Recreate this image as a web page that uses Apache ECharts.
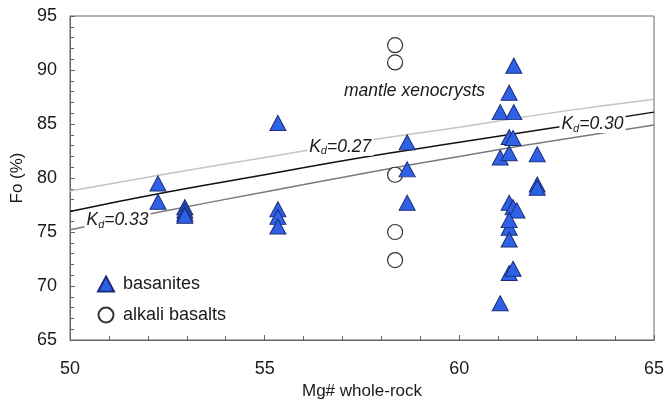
<!DOCTYPE html>
<html>
<head>
<meta charset="utf-8">
<script src="https://cdn.jsdelivr.net/npm/echarts@6/dist/echarts.min.js"></script>
<style>
html,body{margin:0;padding:0;background:#fff;}
#chart{width:664px;height:399px;}
</style>
</head>
<body>
<div id="chart"></div>
<script>
// Basanites (triangles)
var basaniteMg = [52.26, 52.26, 52.95, 52.95, 52.95, 52.95, 55.34, 55.34, 55.34, 55.34,
  58.66, 58.66, 58.66, 61.05, 61.05, 61.05, 61.28, 61.28, 61.28, 61.40, 61.40, 61.38,
  61.28, 61.28, 61.28, 61.28, 61.38, 61.38, 61.48, 61.28, 62.0, 62.0, 62.0];
var basaniteFo = [79.5, 77.8, 77.3, 77.0, 76.7, 76.5, 85.1, 77.1, 76.4, 75.5,
  83.3, 80.8, 77.7, 86.1, 81.9, 68.4, 87.9, 83.8, 82.3, 90.4, 86.1, 83.7,
  77.7, 75.4, 74.3, 71.2, 77.3, 71.6, 77.0, 76.1, 82.2, 79.4, 79.1];
// Alkali basalts (circles)
var alkaliMg = [58.35, 58.35, 58.35, 58.35, 58.35];
var alkaliFo = [92.3, 90.7, 80.3, 75.0, 72.4];
// Kd lines
var kdMg  = [50, 52.5, 55, 57.5, 60, 62.5, 65];
var kd027 = [78.8, 80.4, 81.9, 83.4, 84.7, 86.1, 87.3];
var kd030 = [76.9, 78.7, 80.3, 81.9, 83.3, 84.7, 86.1];
var kd033 = [75.2, 77.0, 78.7, 80.4, 82.0, 83.5, 84.9];
// annotation labels
var kdLabelText = ['0.33', '0.27', '0.30'];
var kdLabelMg = [51.22, 56.94, 63.42];
var kdLabelFo = [76.1, 82.9, 85.0];
var xenoLabel = 'mantle xenocrysts';
var xenoMg = 58.85, xenoFo = 88.0;
var seriesNames = ['basanites', 'alkali basalts'];
var xTicks = [50, 55, 60, 65];
var yTicks = [65, 70, 75, 80, 85, 90, 95];

function zip(a, b) { return a.map(function (v, i) { return [v, b[i]]; }); }

var FONT = '"Liberation Sans", Arial, Helvetica, sans-serif';
var FS = 18;
var TXT = '#1a1a1a';
var chart = echarts.init(document.getElementById('chart'));

var lineStyleBase = { type: 'line', showSymbol: false, symbol: 'none', silent: true, z: 2, animation: false };

var option = {
  animation: false,
  textStyle: { fontFamily: FONT },
  grid: { left: 70, right: 10, top: 16, bottom: 59, containLabel: false, outerBoundsMode: 'none',
          show: true, borderColor: '#666', borderWidth: 1, backgroundColor: 'transparent' },
  legend: {
    data: seriesNames,
    orient: 'vertical',
    left: 97, top: 275, padding: 0,
    itemWidth: 16, itemHeight: 15, itemGap: 13,
    textStyle: { fontSize: FS, color: TXT, fontFamily: FONT, padding: [0, 0, 0, 4] }
  },
  xAxis: {
    type: 'value', min: xTicks[0], max: xTicks[xTicks.length - 1], interval: 5,
    name: 'Mg# whole-rock', nameLocation: 'middle', nameGap: 43,
    nameTextStyle: { fontSize: FS - 1, color: TXT, fontFamily: FONT },
    axisLine: { lineStyle: { color: '#666' } },
    axisTick: { inside: true, length: 5, lineStyle: { color: '#666' } },
    minorTick: { show: true, splitNumber: 5, length: 4, lineStyle: { color: '#666' } },
    splitLine: { show: false },
    axisLabel: { fontSize: FS, color: TXT, margin: 20, fontFamily: FONT }
  },
  yAxis: {
    type: 'value', min: yTicks[0], max: yTicks[yTicks.length - 1], interval: 5,
    name: 'Fo (%)', nameLocation: 'middle', nameGap: 38,
    nameTextStyle: { fontSize: FS - 1, color: TXT, fontFamily: FONT },
    axisLine: { lineStyle: { color: '#666' } },
    axisTick: { inside: true, length: 5, lineStyle: { color: '#666' } },
    minorTick: { show: true, splitNumber: 5, length: 4, lineStyle: { color: '#666' } },
    splitLine: { show: false },
    axisLabel: { fontSize: FS, color: TXT, margin: 13, fontFamily: FONT }
  },
  series: [
    Object.assign({ name: 'Kd=0.27', data: zip(kdMg, kd027), smooth: true, lineStyle: { color: '#c4c4c4', width: 1.5 } }, lineStyleBase),
    Object.assign({ name: 'Kd=0.30', data: zip(kdMg, kd030), smooth: true, lineStyle: { color: '#111', width: 1.5 } }, lineStyleBase),
    Object.assign({ name: 'Kd=0.33', data: zip(kdMg, kd033), smooth: true, lineStyle: { color: '#7a7a7a', width: 1.5 } }, lineStyleBase),
    {
      name: 'labels', type: 'scatter', silent: true, z: 3,
      symbol: 'rect', symbolSize: 1, itemStyle: { color: 'transparent' },
      data: kdLabelMg.map(function (m, i) { return { value: [m, kdLabelFo[i]], txt: kdLabelText[i] }; })
        .concat([{ value: [xenoMg, xenoFo], txt: null }]),
      label: {
        show: true, position: 'inside', color: TXT, textBorderWidth: 0, opacity: 1,
        formatter: function (p) {
          if (p.data.txt === null) return '{x|' + xenoLabel + '}';
          return '{k|K}{d|d}{v|=' + p.data.txt + '}';
        },
        rich: {
          k: { fontSize: FS - 0.5, fontStyle: 'italic', fontFamily: FONT, color: TXT, textBorderWidth: 0, lineHeight: 20, backgroundColor: '#fff', padding: [0, 0, 0, 2] },
          d: { fontSize: 11, fontStyle: 'italic', fontFamily: FONT, color: TXT, textBorderWidth: 0, lineHeight: 20, backgroundColor: '#fff', padding: [8, 0, 0, 0], verticalAlign: 'bottom' },
          v: { fontSize: FS - 0.5, fontStyle: 'italic', fontFamily: FONT, color: TXT, textBorderWidth: 0, lineHeight: 20, backgroundColor: '#fff', padding: [0, 2, 0, 0] },
          x: { fontSize: FS - 0.5, fontStyle: 'italic', fontFamily: FONT, color: TXT, textBorderWidth: 0, lineHeight: 20 }
        }
      }
    },
    {
      name: seriesNames[1], type: 'scatter', z: 4,
      symbol: 'circle', symbolSize: 15,
      itemStyle: { color: '#fff', borderColor: '#333', borderWidth: 1.2, opacity: 1 },
      data: zip(alkaliMg, alkaliFo)
    },
    {
      name: seriesNames[0], type: 'scatter', z: 5,
      symbol: 'triangle', symbolSize: [16, 15],
      itemStyle: { color: '#2e62e6', borderColor: '#1c2c7a', borderWidth: 1, opacity: 1 },
      data: zip(basaniteMg, basaniteFo)
    }
  ]
};
chart.setOption(option);
</script>
</body>
</html>
